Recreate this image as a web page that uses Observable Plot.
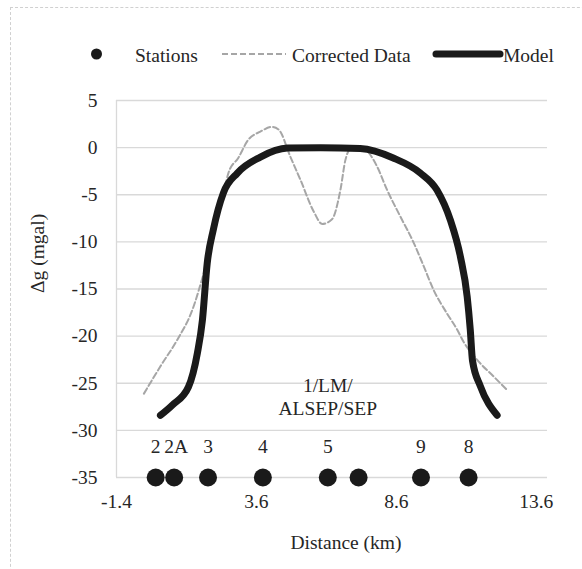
<!DOCTYPE html>
<html>
<head>
<meta charset="utf-8">
<script src="https://cdn.jsdelivr.net/npm/d3@7"></script>
<script src="https://cdn.jsdelivr.net/npm/@observablehq/plot@0.6"></script>
<style>
  html, body { margin: 0; padding: 0; background: #fff; }
  #wrap { position: relative; width: 582px; height: 569px; overflow: hidden; font-family: 'Liberation Serif', 'Times New Roman', serif; }
  #frame { position: absolute; left: 10px; top: 7px; width: 600px; height: 600px; border: 1px dashed #d0d0d0; box-sizing: border-box; pointer-events: none; }
  #legend { display: block; }
  svg text { font-family: 'Liberation Serif', 'Times New Roman', serif; }
</style>
</head>
<body>
<div id="wrap">
  <div id="frame"></div>
  <svg id="legend" width="582" height="90"></svg>
  <div id="chart"></div>
</div>
<script>
// ---- data ----
const stationX = [0.0, 0.66, 1.87, 3.83, 6.15, 7.25, 9.48, 11.18];
const stationLabel = ["2", "2A", "3", "4", "5", "", "9", "8"];
const stationY = -35;
const stationLabelY = -31.7;
const siteLabel = "1/LM/\nALSEP/SEP";
const siteLabelX = 6.15;
const siteLabelY = -26.4;

const modelX = [0.17, 0.6, 1.17, 1.49, 1.67, 1.84, 2.06, 2.42, 2.92, 3.74, 4.71, 5.9, 7.31, 8.49, 9.46, 10.05, 10.53, 10.89, 11.13, 11.24, 11.32, 11.6, 12.2];
const modelY = [-28.4, -27.3, -25.4, -21.8, -18.3, -12.3, -8.7, -4.8, -2.7, -1.0, -0.05, 0.0, -0.1, -1.1, -2.7, -4.5, -7.7, -11.6, -15.8, -19.3, -22.6, -25.3, -28.4];

const dataX = [-0.42, 0.17, 0.77, 1.3, 1.72, 2.07, 2.35, 2.61, 2.95, 3.3, 3.74, 4.16, 4.4, 4.81, 5.17, 5.65, 5.95, 6.3, 6.6, 6.78, 6.96, 7.31, 7.6, 7.91, 8.27, 8.74, 9.22, 9.58, 9.93, 10.41, 10.77, 11.0, 11.48, 12.08, 12.55];
const dataY = [-26.1, -23.2, -20.4, -17.3, -13.3, -9.45, -5.8, -2.6, -1.1, 0.8, 1.7, 2.2, 1.9, -0.95, -3.4, -6.8, -8.1, -7.6, -4.5, -1.3, -0.1, 0.1, -0.5, -2.0, -4.5, -7.3, -10.1, -12.6, -15.1, -17.6, -19.3, -20.6, -22.5, -24.3, -25.7];

const xTicks = [-1.4, 3.6, 8.6, 13.6];
const yTicks = [5, 0, -5, -10, -15, -20, -25, -30, -35];
const legendLabels = ["Stations", "Corrected Data", "Model"];
const yLabel = "Δg (mgal)";
const xLabel = "Distance (km)";

const stations = stationX.map((x, i) => ({x, y: stationY, label: stationLabel[i]}));
const model = modelX.map((x, i) => ({x, y: modelY[i]}));
const corrected = dataX.map((x, i) => ({x, y: dataY[i]}));

const FONT = "'Liberation Serif', 'Times New Roman', serif";
const TEXT = "#262626";
const GRID = "#d9d9d9";
const FS = 19.5;

// ---- legend ----
const lg = d3.select("#legend");
lg.append("circle").attr("cx", 96.5).attr("cy", 54).attr("r", 5.5).attr("fill", "#1a1a1a");
lg.append("text").attr("x", 135).attr("y", 62).text(legendLabels[0]);
lg.append("line").attr("x1", 222).attr("x2", 286).attr("y1", 54).attr("y2", 54)
  .attr("stroke", "#a6a6a6").attr("stroke-width", 2).attr("stroke-dasharray", "6,3");
lg.append("text").attr("x", 292).attr("y", 62).text(legendLabels[1]);
lg.append("line").attr("x1", 436).attr("x2", 500).attr("y1", 54).attr("y2", 54)
  .attr("stroke", "#1a1a1a").attr("stroke-width", 7).attr("stroke-linecap", "round");
lg.append("text").attr("x", 503).attr("y", 62).text(legendLabels[2]);
lg.selectAll("text").attr("font-size", FS).attr("fill", TEXT);

// ---- chart ----
const fmt = d => String(d);
const chart = Plot.plot({
  width: 582,
  height: 479,
  marginTop: 10,
  marginLeft: 116,
  marginRight: 35,
  marginBottom: 92,
  style: {fontFamily: FONT, fontSize: FS + "px", color: TEXT, background: "transparent", overflow: "visible"},
  x: {domain: [-1.4, 14], ticks: xTicks},
  y: {domain: [-35, 5], ticks: yTicks},
  marks: [
    Plot.gridY(yTicks, {stroke: GRID, strokeOpacity: 1, strokeWidth: 1.3}),
    Plot.ruleX([-1.4], {y1: -35, y2: 5, stroke: GRID, strokeWidth: 1.3}),
    Plot.axisY({ticks: yTicks, tickSize: 0, tickPadding: 19, label: null, fontSize: FS, fill: TEXT, tickFormat: fmt}),
    Plot.axisX({ticks: xTicks, tickSize: 0, tickPadding: 17, label: null, fontSize: FS, fill: TEXT, tickFormat: d => d.toFixed(1)}),
    Plot.text([yLabel], {frameAnchor: "left", dx: -79, dy: 4, rotate: -90, fontSize: FS, fill: TEXT}),
    Plot.text([xLabel], {frameAnchor: "bottom", dx: 14, dy: 71, fontSize: FS, fill: TEXT}),
    Plot.line(corrected, {x: "x", y: "y", stroke: "#a6a6a6", strokeWidth: 2, strokeDasharray: "6,3", curve: "monotone-x"}),
    Plot.line(model, {x: "x", y: "y", stroke: "#1a1a1a", strokeWidth: 7, strokeLinecap: "round", strokeLinejoin: "round", curve: "monotone-x"}),
    Plot.dot(stations, {x: "x", y: "y", r: 9, fill: "#1a1a1a", stroke: null}),
    Plot.text(stations.filter(d => d.label !== "2A"), {x: "x", y: stationLabelY, text: "label", fontSize: FS, fill: TEXT}),
    Plot.text(stations.filter(d => d.label === "2A"), {x: "x", y: stationLabelY, text: "label", fontSize: FS, fill: TEXT, dx: 2}),
    Plot.text([siteLabel], {x: siteLabelX, y: siteLabelY, fontSize: FS, fill: TEXT, lineHeight: 1.15})
  ]
});
document.getElementById("chart").appendChild(chart);
</script>
</body>
</html>
